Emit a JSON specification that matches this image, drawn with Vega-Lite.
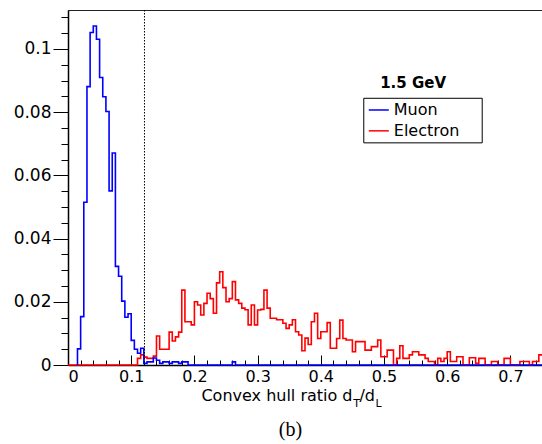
{
  "$schema": "https://vega.github.io/schema/vega-lite/v6.json",
  "width": 474,
  "height": 355,
  "autosize": {"type": "none"},
  "padding": {"left": 68, "top": 10, "right": 0, "bottom": 79},
  "background": "white",
  "config": {
    "view": {"stroke": "#222", "strokeWidth": 1},
    "font": "DejaVu Sans",
    "axis": {"grid": false, "domainColor": "#000", "tickColor": "#000", "labelColor": "#000", "labelFont": "DejaVu Sans", "labelFontSize": 16, "title": null}
  },
  "datasets": {
    "hist": [
      {"s": "Electron", "x": 0, "v": 0},
      {"s": "Electron", "x": 0.11, "v": 0},
      {"s": "Electron", "x": 0.115, "v": 0.0021},
      {"s": "Electron", "x": 0.12, "v": 0.0032},
      {"s": "Electron", "x": 0.125, "v": 0.0025},
      {"s": "Electron", "x": 0.13, "v": 0.0021},
      {"s": "Electron", "x": 0.135, "v": 0.0021},
      {"s": "Electron", "x": 0.14, "v": 0.0028},
      {"s": "Electron", "x": 0.145, "v": 0.0092},
      {"s": "Electron", "x": 0.15, "v": 0.005},
      {"s": "Electron", "x": 0.155, "v": 0.005},
      {"s": "Electron", "x": 0.16, "v": 0.005},
      {"s": "Electron", "x": 0.165, "v": 0.0104},
      {"s": "Electron", "x": 0.17, "v": 0.0076},
      {"s": "Electron", "x": 0.175, "v": 0.0089},
      {"s": "Electron", "x": 0.18, "v": 0.0104},
      {"s": "Electron", "x": 0.185, "v": 0.0237},
      {"s": "Electron", "x": 0.19, "v": 0.0137},
      {"s": "Electron", "x": 0.195, "v": 0.0137},
      {"s": "Electron", "x": 0.2, "v": 0.0127},
      {"s": "Electron", "x": 0.205, "v": 0.02},
      {"s": "Electron", "x": 0.21, "v": 0.019},
      {"s": "Electron", "x": 0.215, "v": 0.0158},
      {"s": "Electron", "x": 0.22, "v": 0.0195},
      {"s": "Electron", "x": 0.225, "v": 0.0227},
      {"s": "Electron", "x": 0.23, "v": 0.021},
      {"s": "Electron", "x": 0.235, "v": 0.0164},
      {"s": "Electron", "x": 0.24, "v": 0.026},
      {"s": "Electron", "x": 0.245, "v": 0.0295},
      {"s": "Electron", "x": 0.25, "v": 0.0245},
      {"s": "Electron", "x": 0.255, "v": 0.02},
      {"s": "Electron", "x": 0.26, "v": 0.021},
      {"s": "Electron", "x": 0.265, "v": 0.0264},
      {"s": "Electron", "x": 0.27, "v": 0.0206},
      {"s": "Electron", "x": 0.275, "v": 0.0195},
      {"s": "Electron", "x": 0.28, "v": 0.018},
      {"s": "Electron", "x": 0.285, "v": 0.0175},
      {"s": "Electron", "x": 0.29, "v": 0.0127},
      {"s": "Electron", "x": 0.295, "v": 0.019},
      {"s": "Electron", "x": 0.3, "v": 0.0127},
      {"s": "Electron", "x": 0.305, "v": 0.0174},
      {"s": "Electron", "x": 0.31, "v": 0.0176},
      {"s": "Electron", "x": 0.315, "v": 0.0237},
      {"s": "Electron", "x": 0.32, "v": 0.018},
      {"s": "Electron", "x": 0.325, "v": 0.0148},
      {"s": "Electron", "x": 0.33, "v": 0.0148},
      {"s": "Electron", "x": 0.335, "v": 0.0143},
      {"s": "Electron", "x": 0.34, "v": 0.0143},
      {"s": "Electron", "x": 0.345, "v": 0.0132},
      {"s": "Electron", "x": 0.35, "v": 0.0116},
      {"s": "Electron", "x": 0.355, "v": 0.0127},
      {"s": "Electron", "x": 0.36, "v": 0.0143},
      {"s": "Electron", "x": 0.365, "v": 0.0105},
      {"s": "Electron", "x": 0.37, "v": 0.0095},
      {"s": "Electron", "x": 0.375, "v": 0.0045},
      {"s": "Electron", "x": 0.38, "v": 0.0085},
      {"s": "Electron", "x": 0.385, "v": 0.0065},
      {"s": "Electron", "x": 0.39, "v": 0.0137},
      {"s": "Electron", "x": 0.395, "v": 0.0164},
      {"s": "Electron", "x": 0.4, "v": 0.0084},
      {"s": "Electron", "x": 0.405, "v": 0.0105},
      {"s": "Electron", "x": 0.41, "v": 0.0105},
      {"s": "Electron", "x": 0.415, "v": 0.0134},
      {"s": "Electron", "x": 0.42, "v": 0.0053},
      {"s": "Electron", "x": 0.425, "v": 0.0053},
      {"s": "Electron", "x": 0.43, "v": 0.0084},
      {"s": "Electron", "x": 0.435, "v": 0.0142},
      {"s": "Electron", "x": 0.44, "v": 0.0084},
      {"s": "Electron", "x": 0.445, "v": 0.0079},
      {"s": "Electron", "x": 0.45, "v": 0.0079},
      {"s": "Electron", "x": 0.455, "v": 0.0042},
      {"s": "Electron", "x": 0.46, "v": 0.0074},
      {"s": "Electron", "x": 0.465, "v": 0.0074},
      {"s": "Electron", "x": 0.47, "v": 0.0074},
      {"s": "Electron", "x": 0.475, "v": 0.0047},
      {"s": "Electron", "x": 0.48, "v": 0.0047},
      {"s": "Electron", "x": 0.485, "v": 0.0058},
      {"s": "Electron", "x": 0.49, "v": 0.0058},
      {"s": "Electron", "x": 0.495, "v": 0.0079},
      {"s": "Electron", "x": 0.5, "v": 0.0026},
      {"s": "Electron", "x": 0.505, "v": 0.0026},
      {"s": "Electron", "x": 0.51, "v": 0.0047},
      {"s": "Electron", "x": 0.515, "v": 0.0047},
      {"s": "Electron", "x": 0.52, "v": 0},
      {"s": "Electron", "x": 0.525, "v": 0.0021},
      {"s": "Electron", "x": 0.53, "v": 0.0061},
      {"s": "Electron", "x": 0.535, "v": 0.0021},
      {"s": "Electron", "x": 0.54, "v": 0.0021},
      {"s": "Electron", "x": 0.545, "v": 0.0032},
      {"s": "Electron", "x": 0.55, "v": 0.0042},
      {"s": "Electron", "x": 0.555, "v": 0.0042},
      {"s": "Electron", "x": 0.56, "v": 0.0032},
      {"s": "Electron", "x": 0.565, "v": 0.0032},
      {"s": "Electron", "x": 0.57, "v": 0.0021},
      {"s": "Electron", "x": 0.575, "v": 0.0011},
      {"s": "Electron", "x": 0.58, "v": 0.0011},
      {"s": "Electron", "x": 0.585, "v": 0},
      {"s": "Electron", "x": 0.59, "v": 0.0021},
      {"s": "Electron", "x": 0.595, "v": 0.0011},
      {"s": "Electron", "x": 0.6, "v": 0.0021},
      {"s": "Electron", "x": 0.605, "v": 0.0042},
      {"s": "Electron", "x": 0.61, "v": 0.0011},
      {"s": "Electron", "x": 0.615, "v": 0.0011},
      {"s": "Electron", "x": 0.62, "v": 0.0026},
      {"s": "Electron", "x": 0.625, "v": 0.0026},
      {"s": "Electron", "x": 0.63, "v": 0},
      {"s": "Electron", "x": 0.635, "v": 0},
      {"s": "Electron", "x": 0.64, "v": 0.0023},
      {"s": "Electron", "x": 0.645, "v": 0.0023},
      {"s": "Electron", "x": 0.65, "v": 0.0005},
      {"s": "Electron", "x": 0.655, "v": 0.0021},
      {"s": "Electron", "x": 0.66, "v": 0.0021},
      {"s": "Electron", "x": 0.665, "v": 0},
      {"s": "Electron", "x": 0.67, "v": 0},
      {"s": "Electron", "x": 0.675, "v": 0.0011},
      {"s": "Electron", "x": 0.68, "v": 0.0011},
      {"s": "Electron", "x": 0.685, "v": 0},
      {"s": "Electron", "x": 0.69, "v": 0},
      {"s": "Electron", "x": 0.695, "v": 0.0021},
      {"s": "Electron", "x": 0.7, "v": 0.0021},
      {"s": "Electron", "x": 0.715, "v": 0},
      {"s": "Electron", "x": 0.72, "v": 0.0011},
      {"s": "Electron", "x": 0.725, "v": 0.0011},
      {"s": "Electron", "x": 0.73, "v": 0.0011},
      {"s": "Electron", "x": 0.735, "v": 0},
      {"s": "Electron", "x": 0.74, "v": 0.0011},
      {"s": "Electron", "x": 0.745, "v": 0.0011},
      {"s": "Electron", "x": 0.75, "v": 0.0032},
      {"s": "Muon", "x": 0.015, "v": 0},
      {"s": "Muon", "x": 0.02, "v": 0.0051},
      {"s": "Muon", "x": 0.025, "v": 0.0153},
      {"s": "Muon", "x": 0.03, "v": 0.0515},
      {"s": "Muon", "x": 0.035, "v": 0.0881},
      {"s": "Muon", "x": 0.04, "v": 0.1052},
      {"s": "Muon", "x": 0.045, "v": 0.1073},
      {"s": "Muon", "x": 0.05, "v": 0.1031},
      {"s": "Muon", "x": 0.055, "v": 0.091},
      {"s": "Muon", "x": 0.06, "v": 0.0849},
      {"s": "Muon", "x": 0.065, "v": 0.0802},
      {"s": "Muon", "x": 0.07, "v": 0.0551},
      {"s": "Muon", "x": 0.075, "v": 0.0671},
      {"s": "Muon", "x": 0.08, "v": 0.0312},
      {"s": "Muon", "x": 0.085, "v": 0.0281},
      {"s": "Muon", "x": 0.09, "v": 0.0202},
      {"s": "Muon", "x": 0.095, "v": 0.0151},
      {"s": "Muon", "x": 0.1, "v": 0.0162},
      {"s": "Muon", "x": 0.105, "v": 0.0078},
      {"s": "Muon", "x": 0.11, "v": 0.005},
      {"s": "Muon", "x": 0.115, "v": 0.0037},
      {"s": "Muon", "x": 0.12, "v": 0.0053},
      {"s": "Muon", "x": 0.125, "v": 0.0005},
      {"s": "Muon", "x": 0.13, "v": 0.001},
      {"s": "Muon", "x": 0.135, "v": 0.001},
      {"s": "Muon", "x": 0.14, "v": 0.0022},
      {"s": "Muon", "x": 0.145, "v": 0.0015},
      {"s": "Muon", "x": 0.15, "v": 0.0005},
      {"s": "Muon", "x": 0.155, "v": 0.001},
      {"s": "Muon", "x": 0.16, "v": 0.001},
      {"s": "Muon", "x": 0.165, "v": 0.0005},
      {"s": "Muon", "x": 0.17, "v": 0.001},
      {"s": "Muon", "x": 0.175, "v": 0.001},
      {"s": "Muon", "x": 0.18, "v": 0.0005},
      {"s": "Muon", "x": 0.185, "v": 0.001},
      {"s": "Muon", "x": 0.19, "v": 0.001},
      {"s": "Muon", "x": 0.26, "v": 0},
      {"s": "Muon", "x": 0.265, "v": 0.001},
      {"s": "Muon", "x": 0.75, "v": 0}
    ]
  },
  "resolve": {"axis": {"x": "independent", "y": "independent"}},
  "layer": [
    {
      "data": {"name": "hist"},
      "transform": [{"filter": "datum.s === 'Electron'"}],
      "mark": {"type": "line", "interpolate": "step-before", "color": "#ff0000", "strokeWidth": 1.6},
      "encoding": {
        "x": {"field": "x", "type": "quantitative", "scale": {"domain": [0, 0.75], "nice": false, "zero": false},
          "axis": {"orient": "bottom", "values": [0.02, 0.04, 0.06, 0.08, 0.12, 0.14, 0.16, 0.18, 0.22, 0.24, 0.26, 0.28, 0.32, 0.34, 0.36, 0.38, 0.42, 0.44, 0.46, 0.48, 0.52, 0.54, 0.56, 0.58, 0.62, 0.64, 0.66, 0.68, 0.72, 0.74], "tickSize": -5, "labels": false, "domain": false}},
        "y": {"field": "v", "type": "quantitative", "scale": {"domain": [0, 0.11234], "nice": false},
          "axis": {"orient": "left", "values": [0.005, 0.01, 0.015, 0.025, 0.03, 0.035, 0.045, 0.05, 0.055, 0.065, 0.07, 0.075, 0.085, 0.09, 0.095, 0.105, 0.11], "tickSize": 7, "labels": false, "domain": false}}
      }
    },
    {
      "data": {"name": "hist"},
      "transform": [{"filter": "datum.s === 'Muon'"}],
      "mark": {"type": "line", "interpolate": "step-before", "color": "#0000ff", "strokeWidth": 1.6},
      "encoding": {
        "x": {"field": "x", "type": "quantitative", "scale": {"domain": [0, 0.75], "nice": false, "zero": false},
          "axis": {"orient": "bottom", "values": [0, 0.1, 0.2, 0.3, 0.4, 0.5, 0.6, 0.7], "format": "~g", "tickSize": -10, "labelPadding": 13, "labelFontSize": 16, "domainWidth": 1.5}},
        "y": {"field": "v", "type": "quantitative", "scale": {"domain": [0, 0.11234], "nice": false},
          "axis": {"orient": "left", "values": [0, 0.02, 0.04, 0.06, 0.08, 0.1], "format": "~g", "tickSize": 15, "labelPadding": 2, "labelFontSize": 17, "domainWidth": 1.5}}
      }
    },
    {
      "data": {"values": [{}]},
      "mark": {"type": "rule", "color": "#000", "strokeWidth": 1, "strokeDash": [1.5, 1.5]},
      "encoding": {
        "x": {"datum": 0.121, "type": "quantitative", "scale": {"domain": [0, 0.75], "nice": false, "zero": false}, "axis": null}
      }
    },
    {
      "data": {"values": [{}]},
      "mark": {"type": "rect", "fill": "white", "stroke": "#000", "strokeWidth": 1},
      "encoding": {
        "x": {"datum": 0.468, "type": "quantitative", "scale": {"domain": [0, 0.75], "nice": false, "zero": false}, "axis": null},
        "x2": {"datum": 0.6554},
        "y": {"datum": 0.0844, "type": "quantitative", "scale": {"domain": [0, 0.11234], "nice": false}, "axis": null},
        "y2": {"datum": 0.0703}
      }
    },
    {
      "data": {"values": [{}]},
      "mark": {"type": "rule", "color": "#0000ff", "strokeWidth": 1.5},
      "encoding": {
        "x": {"datum": 0.4759, "type": "quantitative", "scale": {"domain": [0, 0.75], "nice": false, "zero": false}, "axis": null},
        "x2": {"datum": 0.5076},
        "y": {"datum": 0.0807, "type": "quantitative", "scale": {"domain": [0, 0.11234], "nice": false}, "axis": null}
      }
    },
    {
      "data": {"values": [{}]},
      "mark": {"type": "rule", "color": "#ff0000", "strokeWidth": 1.5},
      "encoding": {
        "x": {"datum": 0.4759, "type": "quantitative", "scale": {"domain": [0, 0.75], "nice": false, "zero": false}, "axis": null},
        "x2": {"datum": 0.5076},
        "y": {"datum": 0.0741, "type": "quantitative", "scale": {"domain": [0, 0.11234], "nice": false}, "axis": null}
      }
    },
    {
      "data": {"values": [{"t": "Muon", "x": 0.5155, "y": 0.0807}, {"t": "Electron", "x": 0.5155, "y": 0.0741}]},
      "mark": {"type": "text", "align": "left", "baseline": "middle", "font": "DejaVu Sans", "fontSize": 16, "color": "#000"},
      "encoding": {
        "x": {"field": "x", "type": "quantitative", "scale": {"domain": [0, 0.75], "nice": false, "zero": false}, "axis": null},
        "y": {"field": "y", "type": "quantitative", "scale": {"domain": [0, 0.11234], "nice": false}, "axis": null},
        "text": {"field": "t"}
      }
    },
    {
      "data": {"values": [{}]},
      "mark": {"type": "text", "align": "center", "baseline": "middle", "font": "DejaVu Sans", "fontSize": 15, "fontWeight": "bold", "color": "#000"},
      "encoding": {
        "x": {"datum": 0.546, "type": "quantitative", "scale": {"domain": [0, 0.75], "nice": false, "zero": false}, "axis": null},
        "y": {"datum": 0.0893, "type": "quantitative", "scale": {"domain": [0, 0.11234], "nice": false}, "axis": null},
        "text": {"value": "1.5 GeV"}
      }
    },
    {
      "data": {"values": [{}]},
      "mark": {"type": "text", "align": "right", "baseline": "alphabetic", "font": "DejaVu Sans", "fontSize": 16, "color": "#000"},
      "encoding": {
        "x": {"datum": 0.4502, "type": "quantitative", "scale": {"domain": [0, 0.75], "nice": false, "zero": false}, "axis": null},
        "y": {"datum": -0.0113, "type": "quantitative", "scale": {"domain": [0, 0.11234], "nice": false}, "axis": null},
        "text": {"value": "Convex hull ratio d"}
      }
    },
    {
      "data": {"values": [{}]},
      "mark": {"type": "text", "align": "left", "baseline": "alphabetic", "font": "DejaVu Sans", "fontSize": 11, "color": "#000"},
      "encoding": {
        "x": {"datum": 0.4512, "type": "quantitative", "scale": {"domain": [0, 0.75], "nice": false, "zero": false}, "axis": null},
        "y": {"datum": -0.0132, "type": "quantitative", "scale": {"domain": [0, 0.11234], "nice": false}, "axis": null},
        "text": {"value": "T"}
      }
    },
    {
      "data": {"values": [{}]},
      "mark": {"type": "text", "align": "left", "baseline": "alphabetic", "font": "DejaVu Sans", "fontSize": 16, "color": "#000"},
      "encoding": {
        "x": {"datum": 0.4612, "type": "quantitative", "scale": {"domain": [0, 0.75], "nice": false, "zero": false}, "axis": null},
        "y": {"datum": -0.0113, "type": "quantitative", "scale": {"domain": [0, 0.11234], "nice": false}, "axis": null},
        "text": {"value": "/d"}
      }
    },
    {
      "data": {"values": [{}]},
      "mark": {"type": "text", "align": "left", "baseline": "alphabetic", "font": "DejaVu Sans", "fontSize": 11, "color": "#000"},
      "encoding": {
        "x": {"datum": 0.4865, "type": "quantitative", "scale": {"domain": [0, 0.75], "nice": false, "zero": false}, "axis": null},
        "y": {"datum": -0.0132, "type": "quantitative", "scale": {"domain": [0, 0.11234], "nice": false}, "axis": null},
        "text": {"value": "L"}
      }
    },
    {
      "data": {"values": [{}]},
      "mark": {"type": "text", "align": "center", "baseline": "alphabetic", "font": "Liberation Serif", "fontSize": 20, "color": "#000"},
      "encoding": {
        "x": {"datum": 0.352, "type": "quantitative", "scale": {"domain": [0, 0.75], "nice": false, "zero": false}, "axis": null},
        "y": {"datum": -0.0225, "type": "quantitative", "scale": {"domain": [0, 0.11234], "nice": false}, "axis": null},
        "text": {"value": "(b)"}
      }
    }
  ]
}
